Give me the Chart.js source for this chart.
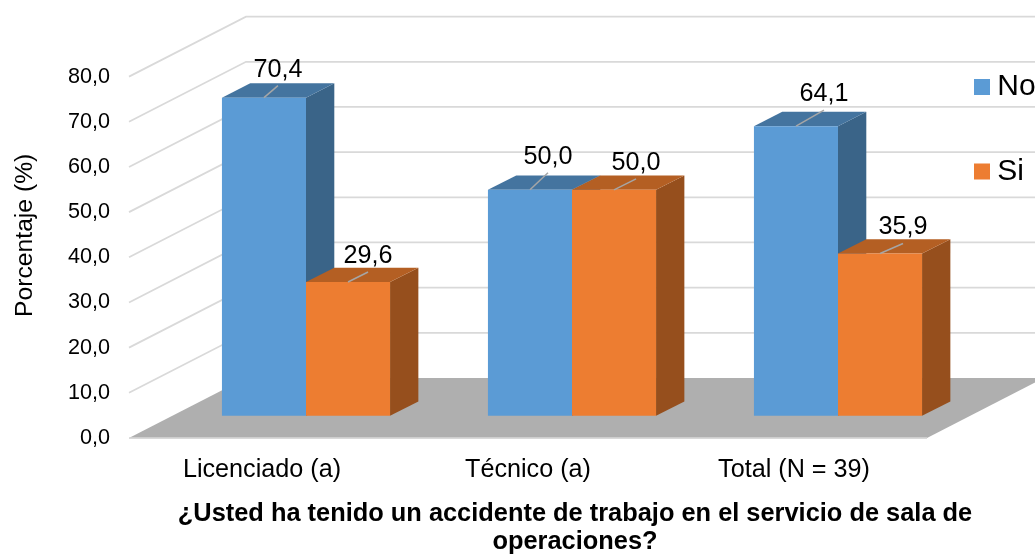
<!DOCTYPE html>
<html><head><meta charset="utf-8">
<style>html,body{margin:0;padding:0;background:#fff;overflow:hidden}#w{width:1035px;height:554px;position:relative}canvas{display:block}</style>
<script src="https://cdn.jsdelivr.net/npm/chart.js@4"></script>
</head><body><div id="w"><canvas id="c" width="1035" height="554"></canvas></div>
<script>
const categories = ['Licenciado (a)', 'Técnico (a)', 'Total (N = 39)'];
const valuesNo = [70.4, 50.0, 64.1];
const valuesSi = [29.6, 50.0, 35.9];
const yTicks = [0, 10, 20, 30, 40, 50, 60, 70, 80];
const xTitle = ['¿Usted ha tenido un accidente de trabajo en el servicio de sala de', 'operaciones?'];
const yTitle = 'Porcentaje (%)';

const FONT = '"Liberation Sans", Arial, sans-serif';
const comma = v => Number(v).toFixed(1).replace('.', ',');

// layout of the fake 3-D box (pixels)
const WALL = {dx: 117, dy: -60};
const BAR = {shiftX: 44, shiftY: -22.3, depthX: 28.3, depthY: -14.3};
const FACES = [{top: '#44749F', side: '#3A6488'}, {top: '#B45F23', side: '#964F1D'}];
const LEADERS = [[[14, -12], [18, -17], [28, -16]], [[20, -10], [22, -11], [23, -10]]];

function poly(ctx, pts, fill) {
  ctx.beginPath();
  pts.forEach((p, i) => i ? ctx.lineTo(p[0], p[1]) : ctx.moveTo(p[0], p[1]));
  ctx.closePath();
  ctx.fillStyle = fill;
  ctx.fill();
}
function moveTitle(scale, dx, dy) {
  const orig = scale.drawTitle;
  if (scale._moved) return;
  scale._moved = true;
  scale.drawTitle = function () {
    const l = this.left, r = this.right, t = this.top, b = this.bottom;
    this.left += dx; this.right += dx; this.top += dy; this.bottom += dy;
    orig.call(this);
    this.left = l; this.right = r; this.top = t; this.bottom = b;
  };
}

const box3d = {
  id: 'box3d',
  afterLayout(chart) {
    const lg = chart.legend;
    lg.left = 927.2; lg.right = 1100; lg.top = 17.5; lg.bottom = 400; lg.width = 172.8; lg.height = 382.5;
    moveTitle(chart.scales.x, 47, 2);
    moveTitle(chart.scales.y, 0, -22);
  },
  beforeDraw(chart) {
    const {ctx, chartArea: a, scales: {y}} = chart;
    ctx.save();
    ctx.fillStyle = '#fff';
    ctx.fillRect(0, 0, chart.width, chart.height);
    const y0 = y.getPixelForValue(0);
    poly(ctx, [[a.left, y0], [a.right, y0], [a.right + WALL.dx, y0 + WALL.dy], [a.left + WALL.dx, y0 + WALL.dy]], '#AFAFAF');
    ctx.strokeStyle = '#D9D9D9';
    ctx.lineWidth = 1.75;
    yTicks.forEach(v => {
      const p = y.getPixelForValue(v);
      ctx.beginPath();
      if (v === 0) {
        ctx.moveTo(a.left, p); ctx.lineTo(a.right, p);
      } else {
        ctx.moveTo(a.left, p); ctx.lineTo(a.left + WALL.dx, p + WALL.dy); ctx.lineTo(chart.width, p + WALL.dy);
      }
      ctx.stroke();
    });
    ctx.restore();
  },
  beforeDatasetsDraw(chart) {
    const {ctx} = chart;
    ctx.save();
    ctx.translate(BAR.shiftX, BAR.shiftY);
    const n = categories.length;
    for (let i = 0; i < n; i++) {
      [0, 1].forEach(d => {
        const el = chart.getDatasetMeta(d).data[i];
        const l = el.x - el.width / 2, r = el.x + el.width / 2, t = el.y, b = el.base;
        const dx = BAR.depthX, dy = BAR.depthY;
        poly(ctx, [[r, t], [r + dx, t + dy], [r + dx, b + dy], [r, b]], FACES[d].side);
        poly(ctx, [[l, t], [r, t], [r + dx, t + dy], [l + dx, t + dy]], FACES[d].top);
      });
    }
  },
  afterDatasetsDraw(chart) {
    const {ctx} = chart;
    [0, 1].forEach(d => {
      chart.getDatasetMeta(d).data.forEach((el, i) => {
        const [lx, ly] = LEADERS[d][i];
        ctx.strokeStyle = '#A6A6A6';
        ctx.lineWidth = 1.5;
        ctx.beginPath();
        ctx.moveTo(el.x, el.y);
        ctx.lineTo(el.x + lx, el.y + ly);
        ctx.stroke();
        ctx.fillStyle = '#000';
        ctx.font = '25.2px ' + FONT;
        ctx.textAlign = 'center';
        ctx.textBaseline = 'middle';
        ctx.fillText(comma(chart.data.datasets[d].data[i]), el.x + lx, el.y + ly - 16);
      });
    });
    ctx.restore();
  }
};

new Chart(document.getElementById('c'), {
  type: 'bar',
  data: {
    labels: categories,
    datasets: [
      {label: 'No', data: valuesNo, backgroundColor: '#5B9BD5', borderWidth: 0, clip: false, categoryPercentage: 0.632, barPercentage: 1},
      {label: 'Si', data: valuesSi, backgroundColor: '#ED7D31', borderWidth: 0, clip: false, categoryPercentage: 0.632, barPercentage: 1}
    ]
  },
  options: {
    responsive: false,
    animation: false,
    devicePixelRatio: 1,
    layout: {padding: {top: 76.6, right: 108, bottom: 0, left: 0}},
    plugins: {
      tooltip: {enabled: false},
      title: {display: false},
      legend: {
        display: true,
        position: 'chartArea',
        align: 'start',
        labels: {
          color: '#000',
          font: {family: FONT, size: 30},
          boxWidth: 0.6,
          boxHeight: 0.6,
          padding: 54.5,
          generateLabels: c => Chart.defaults.plugins.legend.labels.generateLabels(c).map(l => ({...l, lineWidth: 15.4, strokeStyle: l.fillStyle}))
        }
      }
    },
    scales: {
      x: {
        grid: {display: false, drawTicks: false},
        border: {display: false},
        ticks: {color: '#000', font: {family: FONT, size: 25.2}, padding: 17, maxRotation: 0},
        title: {display: true, text: xTitle, color: '#000', font: {family: FONT, size: 25.4, weight: 'bold', lineHeight: 1.1}, padding: {top: 0, bottom: 0}},
        afterFit(s) { s.height = 116; }
      },
      y: {
        min: 0, max: 80,
        afterBuildTicks(s) { s.ticks = yTicks.map(value => ({value})); },
        grid: {display: false, drawTicks: false},
        border: {display: false},
        ticks: {color: '#000', font: {family: FONT, size: 21.6}, padding: 19, callback: comma},
        title: {display: true, text: yTitle, color: '#000', font: {family: FONT, size: 24.7}, padding: {top: 10, bottom: 0}},
        afterFit(s) { s.width = 129; }
      }
    }
  },
  plugins: [box3d]
});
</script></body></html>
